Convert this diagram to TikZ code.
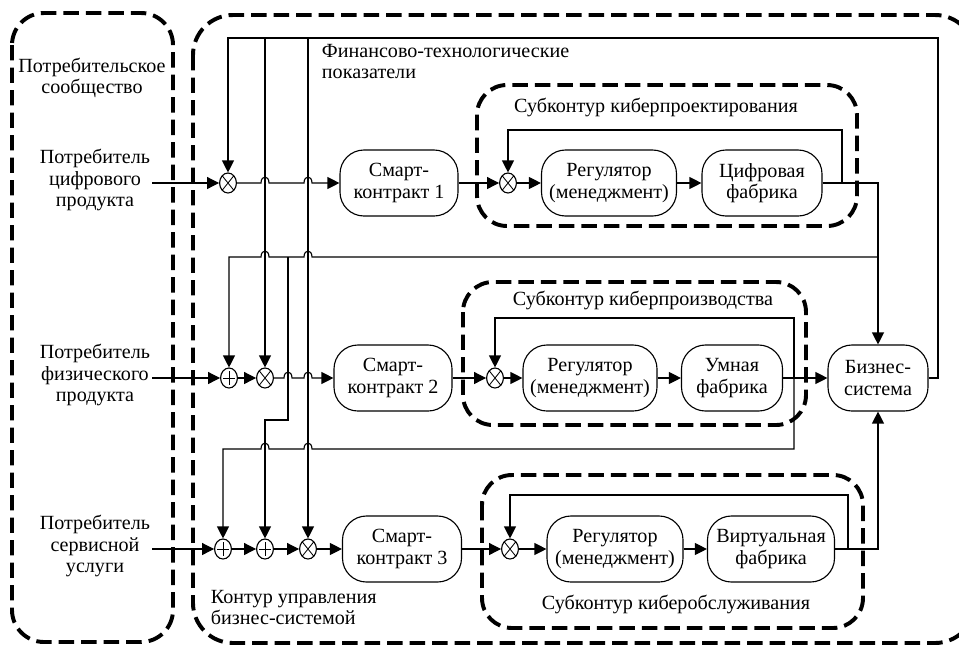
\documentclass[tikz,border=0pt]{standalone}
\usepackage{fontspec}
\setmainfont{Liberation Serif}
\usepackage{tikz}
\usetikzlibrary{arrows.meta}
\usetikzlibrary{positioning}
\usetikzlibrary{shapes.geometric}
\tikzstyle{blk}=[draw,rounded corners=0.6cm,minimum height=1.65cm,align=center,inner sep=2pt]
\tikzstyle{jn}=[draw,ellipse,minimum width=0.42cm,minimum height=0.5cm,inner sep=0pt]

\begin{document}
\begin{tikzpicture}[x=0.025cm,y=-0.025cm,line width=0.8pt,
  font=\fontsize{14.3}{15.2}\selectfont,
  arr/.style={-{Triangle[length=8.5pt,width=8.5pt]}},
  dashbox/.style={line width=2.8pt,dash pattern=on 11pt off 5pt,rounded corners=0.8cm},
  lbl/.style={align=center,inner sep=1pt},
  hop/.style 2 args={insert path={-- (#1-4,#2) .. controls (#1-4,#2-8) and (#1+4,#2-8) .. (#1+4,#2)}},
  hopl/.style 2 args={insert path={-- (#1+4,#2) .. controls (#1+4,#2-8) and (#1-4,#2-8) .. (#1-4,#2)}}]
\tikzstyle{mul}=[jn,path picture={\draw[line width=0.6pt]
  ([shift={(-5.7,-7.1)}]path picture bounding box.center) -- ([shift={(5.7,7.1)}]path picture bounding box.center)
  ([shift={(-5.7,7.1)}]path picture bounding box.center) -- ([shift={(5.7,-7.1)}]path picture bounding box.center);}]
\tikzstyle{sum}=[jn,path picture={\draw[line width=0.6pt]
  ([shift={(-6,0)}]path picture bounding box.center) -- ([shift={(6,0)}]path picture bounding box.center)
  ([shift={(0,-7)}]path picture bounding box.center) -- ([shift={(0,7)}]path picture bounding box.center);}]
\useasboundingbox (0,0) rectangle (959,646);

% contours
\draw[dashbox] (12,13) rectangle (173,642);
\draw[dashbox,rounded corners=1cm] (193,15) rectangle (975,643);
\draw[dashbox,rounded corners=0.75cm] (477,85) rectangle (857,226);
\draw[dashbox,rounded corners=0.75cm] (463,282) rectangle (806,425);
\draw[dashbox,rounded corners=0.75cm] (482,475) rectangle (863,628);

% consumers
\node[lbl] (cons) at (92,78) {Потребительское\\сообщество};
\node[lbl] (pd) at (95,180) {Потребитель\\цифрового\\продукта};
\node[lbl] (pf) at (95,375) {Потребитель\\физического\\продукта};
\node[lbl] (ps) at (95,546) {Потребитель\\сервисной\\услуги};

% captions
\node[lbl,align=left,anchor=north west] (fin) at (320,42) {Финансово-технологические\\показатели};
\node[lbl] (sub1) at (656,107) {Субконтур киберпроектирования};
\node[lbl] (sub2) at (643,300) {Субконтур киберпроизводства};
\node[lbl] (sub3) at (676,604) {Субконтур киберобслуживания};
\node[lbl,align=left,anchor=north west] (ctl) at (209,588) {Контур управления\\бизнес-системой};

% row 1
\node[mul] (m1) at (228,183) {};
\node[blk,minimum width=2.95cm] (sc1) at (399,183) {Смарт-\\контракт 1};
\node[mul] (x1) at (508,183) {};
\node[blk,minimum width=3.375cm] (reg1) at (609,183) {Регулятор\\(менеджмент)};
\node[blk,minimum width=3cm] (fab1) at (762,183) {Цифровая\\фабрика};

% row 2
\node[sum] (s2) at (229,378) {};
\node[mul] (m2) at (265,378) {};
\node[blk,minimum width=2.95cm] (sc2) at (393,378) {Смарт-\\контракт 2};
\node[mul] (x2) at (495,378) {};
\node[blk,minimum width=3.35cm] (reg2) at (590,378) {Регулятор\\(менеджмент)};
\node[blk,minimum width=2.525cm] (fab2) at (732,378) {Умная\\фабрика};
\node[blk,minimum width=2.5cm] (bs) at (878,378) {Бизнес-\\система};

% row 3
\node[sum] (s3a) at (223,549) {};
\node[sum] (s3b) at (265,549) {};
\node[mul] (m3) at (308,549) {};
\node[blk,minimum width=2.975cm] (sc3) at (402,549) {Смарт-\\контракт 3};
\node[mul] (x3) at (510,549) {};
\node[blk,minimum width=3.4cm] (reg3) at (615,549) {Регулятор\\(менеджмент)};
\node[blk,minimum width=3.175cm] (fab3) at (771,549) {Виртуальная\\фабрика};

\coordinate (top) at (938,38);
\coordinate (k1) at (842,130);
\coordinate (k2) at (794,318);
\coordinate (k3) at (848,495);
\coordinate (t2) at (878,257);
\coordinate (t3) at (288,257);
\coordinate (d3) at (794,449);

% forward paths
\draw[arr] (pd.east |- m1) -- (m1);
\draw[arr] (m1) [hop={265}{183}] [hop={308}{183}] -- (sc1);
\draw[arr] (sc1) -- (x1);
\draw[arr] (x1) -- (reg1);
\draw[arr] (reg1) -- (fab1);
\draw[arr] (fab1.east) -| (bs.north);

\draw[arr] (pf.east |- s2) -- (s2);
\draw[arr] (s2) -- (m2);
\draw[arr] (m2) [hop={288}{378}] [hop={308}{378}] -- (sc2);
\draw[arr] (sc2) -- (x2);
\draw[arr] (x2) -- (reg2);
\draw[arr] (reg2) -- (fab2);
\draw[arr] (fab2) -- (bs);

\draw[arr] (ps.east |- s3a) -- (s3a);
\draw[arr] (s3a) -- (s3b);
\draw[arr] (s3b) -- (m3);
\draw[arr] (m3) -- (sc3);
\draw[arr] (sc3) -- (x3);
\draw[arr] (x3) -- (reg3);
\draw[arr] (reg3) -- (fab3);
\draw[arr] (fab3.east) -| (bs.south);

% inner loops
\draw[arr] (fab1.east) -- (fab1.east -| k1) -- (k1) -| (x1);
\draw[arr] (fab2.east) -- (fab2.east -| k2) -- (k2) -| (x2);
\draw[arr] (fab3.east) -- (fab3.east -| k3) -- (k3) -| (x3);

% outer loops
\draw[arr] (bs.east) -| (top) -- (m1 |- top) -- (m1);
\draw[arr] (m2 |- top) -- (m2);
\draw[arr] (m3 |- top) -- (m3);
\draw[arr] (t2) [hopl={308}{257}] [hopl={265}{257}] -- (s2 |- t2) -- (s2);
\draw[arr] (t3) -- (288,420) -| (s3b);
\draw[arr] (fab2.east -| d3) -- (d3) [hopl={308}{449}] [hopl={265}{449}] -- (s3a |- d3) -- (s3a);
\end{tikzpicture}
\end{document}
